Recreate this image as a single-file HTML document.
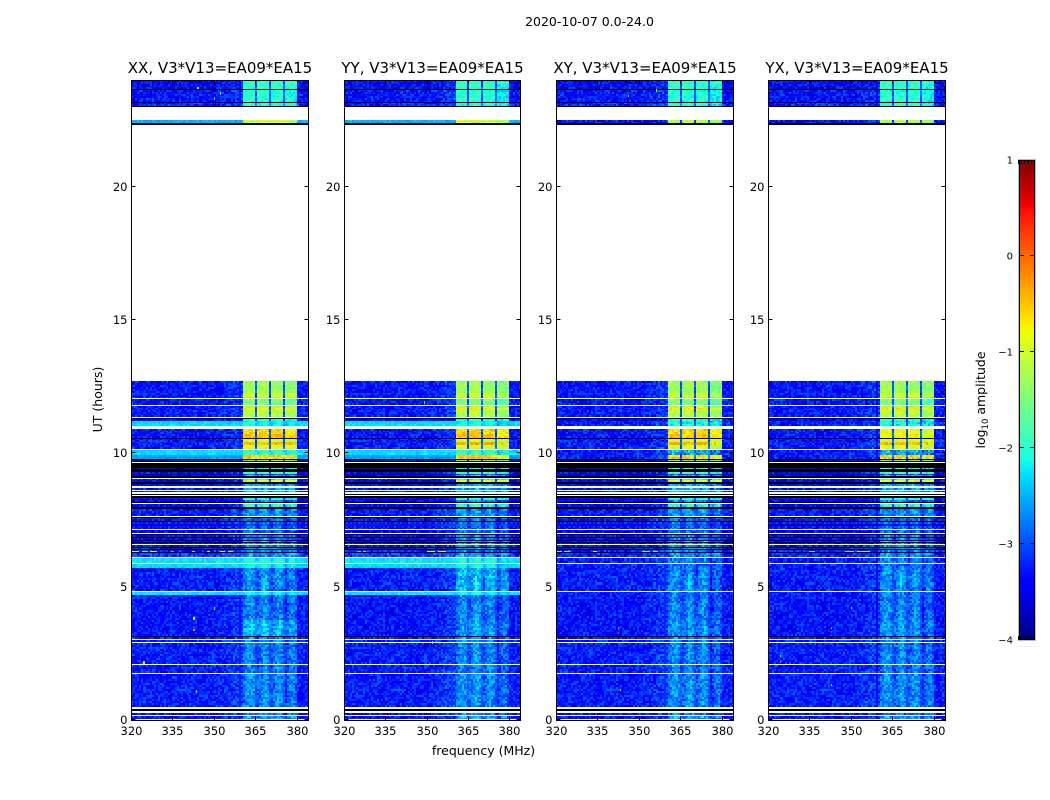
<!DOCTYPE html>
<html lang="en">
<head>
<meta charset="utf-8">
<title>2020-10-07 0.0-24.0</title>
<style>
html,body{margin:0;padding:0;background:#fff;}
svg{display:block;}
text{font-family:"DejaVu Sans","Liberation Sans",sans-serif;fill:#000;}
</style>
</head>
<body>
<svg id="fig" xmlns="http://www.w3.org/2000/svg" width="1050" height="800" viewBox="0 0 1050 800">
<text x="589.5" y="26" text-anchor="middle" font-size="12.5">2020-10-07 0.0-24.0</text>
<text x="483.5" y="755" text-anchor="middle" font-size="12.5">frequency (MHz)</text>
<text transform="translate(102,399.5) rotate(-90)" text-anchor="middle" font-size="12.5">UT (hours)</text>
<text transform="translate(985,400) rotate(-90)" text-anchor="middle" font-size="12.5">log<tspan font-size="8.5" dy="3">10</tspan><tspan dy="-3"> amplitude</tspan></text>
</svg>
<script>
const W = null;
const K = -99;

const panelTitles = ["XX, V3*V13=EA09*EA15", "YY, V3*V13=EA09*EA15", "XY, V3*V13=EA09*EA15", "YX, V3*V13=EA09*EA15"];
const xTickValues = [320, 335, 350, 365, 380];
const yTickValues = [0, 5, 10, 15, 20];
const colorbarTickValues = [1, 0, -1, -2, -3, -4];
const colorbarTickLabels = ["1", "0", "\u22121", "\u22122", "\u22123", "\u22124"];

const subbandEdges = [[360.6, 364.9], [365.6, 369.9], [370.6, 374.9], [375.6, 379.9]];

/* [start hour, end hour, background log10 amp, sub-band log10 amp]; W = no data, K = black */
const timeRows = [
[24.00,23.65,-3.15,-1.95],[23.65,23.61,K,K],[23.61,23.18,-3.1,-2.0],[23.18,23.15,K,K],[23.15,23.02,-3.0,-2.0],[23.02,22.98,K,K],
[22.98,22.50,W,W],[22.50,22.37,-3.1,-1.2],[22.37,22.33,K,K],[22.33,12.71,W,W],
[12.71,12.26,-3.1,-1.3],[12.26,12.11,-3.1,-0.95],[12.11,12.06,-3.1,-1.3],[12.06,12.02,W,W],[12.02,11.81,-3.1,-1.5],[11.81,11.78,W,W],
[11.78,11.70,-3.1,-1.15],[11.70,11.61,-3.05,-0.75],[11.61,11.36,-3.05,-1.15],[11.36,11.33,W,W],[11.33,11.30,K,K],[11.30,11.23,-3.25,-2.0],
[11.23,11.04,-3.05,-2.2],[11.04,10.91,W,W],[10.91,10.73,-3.1,-0.6],[10.73,10.58,-3.1,-0.5],[10.58,10.55,K,K],[10.55,10.43,-3.05,-0.95],
[10.43,10.31,-3.05,-0.4],[10.31,10.16,-3.05,-1.0],[10.16,10.13,W,W],[10.13,9.94,-3.05,-2.4],[9.94,9.79,-3.05,-0.55],[9.79,9.76,K,K],
[9.76,9.71,-3.3,-1.9],[9.71,9.68,K,K],[9.68,9.65,W,W],[9.65,9.46,K,K],[9.46,9.41,-3.4,-2.1],[9.41,9.31,K,K],[9.31,9.24,-3.2,-1.9],
[9.24,9.19,-3.5,-3.0],[9.19,9.14,-3.2,-2.3],[9.14,9.09,K,K],[9.09,9.04,W,W],[9.04,8.99,-3.1,-2.1],[8.99,8.91,-3.2,-0.8],[8.91,8.85,K,K],
[8.85,8.76,-3.2,-2.4],[8.76,8.69,W,W],[8.69,8.64,-3.1,-2.4],[8.64,8.59,W,W],[8.59,8.54,-3.1,-2.3],[8.54,8.49,W,W],[8.49,8.44,K,K],
[8.44,8.41,W,W],[8.41,8.34,K,K],[8.34,8.25,-3.2,-2.0],[8.25,8.19,-3.3,-2.6],[8.19,8.14,K,K],[8.14,8.10,W,W],[8.10,8.00,-3.2,-2.1],
[8.00,7.91,K,K],[7.91,7.65,-3.05,-2.5],[7.65,7.61,W,W],[7.61,7.58,K,K],[7.58,7.46,-3.1,-2.7],[7.46,7.43,K,K],[7.43,7.29,-3.05,-2.7],
[7.29,7.26,K,K],[7.26,7.16,-3.1,-2.7],[7.16,7.13,W,W],[7.13,7.02,-3.2,-2.7],[7.02,6.98,W,W],[6.98,6.92,K,K],[6.92,6.85,-3.15,-2.6],
[6.85,6.82,K,K],[6.82,6.75,-3.2,-2.6],[6.75,6.71,K,K],[6.71,6.66,-3.15,-2.4],[6.66,6.63,K,K],[6.63,6.60,-3.2,-2.5],[6.60,6.56,W,W],
[6.56,6.49,-3.1,-2.6],[6.49,6.45,K,K],[6.45,6.41,-3.1,-2.5],[6.41,6.39,K,K],[6.39,6.36,-3.1,-2.5],[6.36,6.30,-3.0,-2.6],
[6.30,6.26,K,K],[6.26,6.11,-3.0,-2.5],[6.11,6.06,W,W],[6.06,5.90,-3.05,-2.6],[5.90,5.84,W,W],[5.84,5.71,-3.05,-2.6],[5.71,4.84,-3.05,-2.55],
[4.84,4.80,W,W],[4.80,4.69,-3.05,-2.6],[4.69,3.75,-3.1,-2.6],[3.75,3.16,-3.1,-2.5],[3.16,3.13,K,K],[3.13,3.05,-3.05,-2.6],[3.05,3.00,W,W],
[3.00,2.94,-3.05,-2.6],[2.94,2.90,W,W],[2.90,2.09,-3.05,-2.6],[2.09,2.05,W,W],[2.05,1.75,-3.05,-2.6],[1.75,1.71,W,W],[1.71,0.48,-3.05,-2.55],
[0.48,0.42,W,W],[0.42,0.33,K,K],[0.33,0.26,W,W],[0.26,0.19,-3.1,-2.6],[0.19,0.15,W,W],[0.15,0.03,-3.1,-2.4],[0.03,0,W,W]
];

/* [row start hour, background, sub-band] replacing the shared row levels */
const overridesXX = [[22.50,-2.5,-0.95],[11.23,-2.3,-2.25],[10.13,-2.3,-2.1],[9.94,-2.6,-0.55],[6.26,-2.85,-2.45],[6.06,-2.25,-2.2],[5.84,-2.3,-2.25],[4.80,-2.25,-2.25],[3.75,-3.1,-2.3]];
const overridesYY = [[22.50,-2.5,-0.95],[11.23,-2.3,-2.25],[10.13,-2.3,-2.1],[9.94,-2.6,-0.55],[6.26,-2.85,-2.45],[6.06,-2.25,-2.2],[5.84,-2.3,-2.25],[4.80,-2.25,-2.25],[5.71,-3.05,-2.35]];
const overridesXY = [];
const overridesYX = [[10.91,-3.1,-0.85],[10.73,-3.1,-0.75]];

const subbandOffsetXX = [0, 0, 0, -0.1];
const subbandOffsetYY = [0, 0.05, 0, -0.2];
const subbandOffsetXY = [0, 0, 0, -0.2];
const subbandOffsetYX = [0, 0, 0, -0.15];

/* log10 amp added to weak sub-band rows per MHz from 360 MHz */
const streakProfile = [0,0.1,0.2,0.2,0.1,-0.1,0,0.1,0.25,0.1,-0.15,0,0.1,0.2,0.1,-0.2,0,0.15,0.2,0.05,0,0,0,0,0];
/* log10 amp added to the background per MHz from 350 MHz */
const backgroundRamp = [0,0.02,0.04,0.06,0.08,0.1,0.14,0.18,0.2,0.2,0.2];
/* fine amplitude scatter in tenths of a decade */
const speckle = [2,-3,1,-1,4,-2,0,3,-4,1,-2,2,-1,3,-3,0,1,-4,2,-1,3,0,-2,4,-3,1,-1,2,-2,0,3,-3,1,4,-1,-4,2,0,-2,1,3,-1,-3,2,0,-2,4,1,-4,-1,3,0,2,-3,1,-2,3,-1,0,4,-2,-3,2,1,-1,-4,3,0,-2,2,-3,1,4,-1,0,-2,3,-4,1,2,-1,0,-3,3,-2,1,-1,2,0];

/* [hour, first MHz, last MHz, log10 amp] */
const hotRowsXX = [[6.33,320.4,323,-1.3],[6.33,324,326,-1.9],[6.33,327,329.5,-1.2],[6.33,334.5,335.5,-0.1],[6.33,342,343,-1.8],[6.33,347.5,348.5,-0.6],[6.33,352,354,-1.3],[6.33,355,357,-1.2]];
const hotRowsYY = [[6.33,325,326,-1.7],[6.33,327,328,-1.8],[6.33,350,353,-1.2],[6.33,354,357,-1.1]];
const hotRowsXY = [[6.33,320,322,-1.6],[6.33,323,325,-1.8],[6.33,333.5,335,-0.7],[6.33,351,354,-1.8],[6.33,355,357,-1.7]];
const hotRowsYX = [[6.33,335,337,-1.9],[6.33,348,351,-1.7],[6.33,352,357,-1.5]];

/* [MHz, hour, log10 amp] */
const hotPixelsXX = [[342.5,3.37,-0.2],[342.5,3.8,-1.4],[350,4.19,-1.6],[324.4,2.15,-0.6],[343.5,1.06,-2],[344,23.7,-1.5],[352,23.5,-1.2],[350,23.3,-1.6]];
const hotPixelsYY = [[341,23.55,0.2],[349,11.9,-1.6],[352,2.9,-1.6]];
const hotPixelsXY = [[342.4,3.26,0.3],[342.4,3.45,-0.1],[343,1.12,-1.8],[346,23.4,-1.6],[356,23.6,-1.5]];
const hotPixelsYX = [[342.6,3.3,0.3],[342.6,3.45,-0.1],[342.7,1.31,-1.8],[324.3,2.17,-0.3],[324.3,2.4,-1.9],[350,4.2,-1.8]];

const jetStopsT = [0, 0.11, 0.125, 0.34, 0.35, 0.375, 0.64, 0.65, 0.66, 0.89, 0.91, 1];
const jetR = [0, 0, 0, 0, 0, 0.08, 0.94, 0.97, 1, 1, 0.91, 0.5];
const jetG = [0, 0, 0, 0.86, 0.9, 1, 1, 0.96, 0.92, 0.07, 0, 0];
const jetB = [0.5, 1, 1, 1, 0.97, 0.9, 0.03, 0, 0, 0, 0, 0];

const backgroundBias = -0.22;
const weakSubbandBias = -0.28;

const SVGNS = "http://www.w3.org/2000/svg";
const fig = document.getElementById("fig");
const panelLefts = [131, 344, 556, 768];
const panelRights = [308, 520, 733, 945];
const plotTop = 80;
const plotBottom = 720;
const levelMin = -4;
const levelMax = 1;
const cbLeft = 1019, cbRight = 1035, cbTop = 160, cbBottom = 640;

function xOf(panel, mhz) { return panelLefts[panel] + (mhz - 320) * (panelRights[panel] - panelLefts[panel]) / 64; }
function yOf(hour) { return plotBottom - hour * (plotBottom - plotTop) / 24; }
function cbY(level) { return cbTop + (levelMax - level) * (cbBottom - cbTop) / (levelMax - levelMin); }
function lerpStops(vals, t) {
  for (let i = 1; i < jetStopsT.length; i++) {
    if (t <= jetStopsT[i]) {
      const f = (t - jetStopsT[i - 1]) / (jetStopsT[i] - jetStopsT[i - 1]);
      return vals[i - 1] + f * (vals[i] - vals[i - 1]);
    }
  }
  return vals[vals.length - 1];
}
function levelColor(level) {
  const t = Math.max(0, Math.min(1, (level - levelMin) / (levelMax - levelMin)));
  const r = Math.round(255 * lerpStops(jetR, t));
  const g = Math.round(255 * lerpStops(jetG, t));
  const b = Math.round(255 * lerpStops(jetB, t));
  return "rgb(" + r + "," + g + "," + b + ")";
}
function node(tag, parent) {
  const el = document.createElementNS(SVGNS, tag);
  parent.appendChild(el);
  return el;
}
function cellRect(parent, x0, x1, y0, y1, fill) {
  const r = node("rect", parent);
  const xa = Math.round(x0), ya = Math.round(y0);
  r.setAttribute("x", xa);
  r.setAttribute("y", ya);
  r.setAttribute("width", Math.max(1, Math.round(x1) - xa));
  r.setAttribute("height", Math.max(1, Math.round(y1) - ya));
  r.setAttribute("fill", fill);
  r.setAttribute("shape-rendering", "crispEdges");
  return r;
}

const channelStep = 0.75;
const columns = [];
for (let f = 320; f < 360.6; f += channelStep) { columns.push({ f0: f, f1: Math.min(f + channelStep, 360.6), kind: "bg", sb: -1 }); }
subbandEdges.forEach(function (edge, i) {
  const n = 6;
  const w = (edge[1] - edge[0]) / n;
  for (let k = 0; k < n; k++) { columns.push({ f0: edge[0] + k * w, f1: edge[0] + (k + 1) * w, kind: "sb", sb: i }); }
  if (i < subbandEdges.length - 1) { columns.push({ f0: edge[1], f1: subbandEdges[i + 1][0], kind: "gap", sb: i }); }
});
for (let f = 379.9; f < 384; f += channelStep) { columns.push({ f0: f, f1: Math.min(f + channelStep, 384), kind: "bg", sb: -1 }); }

const polOverrides = [overridesXX, overridesYY, overridesXY, overridesYX];
const polOffsets = [subbandOffsetXX, subbandOffsetYY, subbandOffsetXY, subbandOffsetYX];
const polHotRows = [hotRowsXX, hotRowsYY, hotRowsXY, hotRowsYX];
const polHotPixels = [hotPixelsXX, hotPixelsYY, hotPixelsXY, hotPixelsYX];
const polNames = ["xx", "yy", "xy", "yx"];

function drawPanel(p) {
  const pol = polNames[p];
  const g = node("g", fig);
  
  
  const cells = node("g", g);
  
  
  let serial = 0;
  timeRows.forEach(function (row) {
    let bg = row[2], sb = row[3];
    polOverrides[p].forEach(function (o) { if (o[0] === row[0]) { bg = o[1]; sb = o[2]; } });
    if (bg === W) { return; }
    const left = xOf(p, 320), right = xOf(p, 384);
    if (bg === K) {
      const band = cellRect(cells, left, right, yOf(row[0]), yOf(row[1]), "#000");
      
      
      return;
    }
    const quiet = bg < -2.8;
    const bgBase = quiet ? bg + backgroundBias : bg;
    const sbBase = quiet && sb < -2.25 ? sb + weakSubbandBias : sb;
    const noiseScale = quiet ? 0.9 : 0.35;
    const n = Math.max(1, Math.ceil((row[0] - row[1]) / 0.08 - 0.001));
    const dh = (row[0] - row[1]) / n;
    for (let k = 0; k < n; k++) {
      serial++;
      const y0 = yOf(row[0] - k * dh), y1 = yOf(row[0] - (k + 1) * dh);
      columns.forEach(function (col, ci) {
        const noise = speckle[(serial * 37 + ci * 11 + serial * ci + p * 13) % speckle.length] / 10;
        const mid = (col.f0 + col.f1) / 2;
        let level;
        if (col.kind === "bg") {
          const rampIndex = Math.floor(mid) - 350;
          const ramp = rampIndex >= 0 && rampIndex < backgroundRamp.length && quiet ? backgroundRamp[rampIndex] : 0;
          level = bgBase + ramp + noise * noiseScale;
        } else if (col.kind === "sb") {
          const streak = sb < -2 ? streakProfile[Math.floor(mid) - 360] : 0;
          level = sbBase + polOffsets[p][col.sb] + streak + noise * (sb > -2.1 ? 0.6 : noiseScale);
        } else {
          level = (sb >= -2.25 && quiet ? bgBase + 0.35 : sbBase - 0.1) + noise * 0.6;
        }
        const c = cellRect(cells, xOf(p, col.f0), xOf(p, col.f1), y0, y1, levelColor(level));
        
        
      });
    }
  });
  polHotRows[p].forEach(function (h) {
    const r = cellRect(cells, xOf(p, h[1]), xOf(p, h[2]), yOf(h[0] + 0.02), yOf(h[0] - 0.02), levelColor(h[3]));
    
    
  });
  polHotPixels[p].forEach(function (h) {
    const r = cellRect(cells, xOf(p, h[0]), xOf(p, h[0] + 0.5), yOf(h[1] + 0.05), yOf(h[1] - 0.05), levelColor(h[2]));
    
    
  });

  const L = panelLefts[p] + 0.5, R = panelRights[p] + 0.5;
  const frame = node("rect", g);
  
  
  frame.setAttribute("x", L);
  frame.setAttribute("y", plotTop + 0.5);
  frame.setAttribute("width", R - L);
  frame.setAttribute("height", plotBottom - plotTop);
  frame.setAttribute("fill", "none");
  frame.setAttribute("stroke", "#000");
  frame.setAttribute("stroke-width", "1");

  xTickValues.forEach(function (v) {
    const x = Math.round(xOf(p, v)) + 0.5;
    [[plotBottom, plotBottom - 4], [plotTop, plotTop + 4]].forEach(function (s) {
      const t = node("line", g);
      
      
      t.setAttribute("x1", x); t.setAttribute("x2", x);
      t.setAttribute("y1", s[0]); t.setAttribute("y2", s[1]);
      t.setAttribute("stroke", "#000");
    });
    const lab = node("text", g);
    
    
    lab.setAttribute("x", x);
    lab.setAttribute("y", 735);
    lab.setAttribute("text-anchor", "middle");
    lab.setAttribute("font-size", "11.5");
    lab.textContent = String(v);
  });
  yTickValues.forEach(function (v) {
    const y = Math.round(yOf(v)) - 0.5;
    [[L, L + 4], [R, R - 4]].forEach(function (s) {
      const t = node("line", g);
      
      
      t.setAttribute("x1", s[0]); t.setAttribute("x2", s[1]);
      t.setAttribute("y1", y); t.setAttribute("y2", y);
      t.setAttribute("stroke", "#000");
    });
    const lab = node("text", g);
    
    
    lab.setAttribute("x", L - 4);
    lab.setAttribute("y", y + 4.5);
    lab.setAttribute("text-anchor", "end");
    lab.setAttribute("font-size", "11.5");
    lab.textContent = String(v);
  });
  const title = node("text", g);
  
  
  title.setAttribute("x", (panelLefts[p] + panelRights[p]) / 2 + 0.5);
  title.setAttribute("y", 73);
  title.setAttribute("text-anchor", "middle");
  title.setAttribute("font-size", "15");
  title.textContent = panelTitles[p];
}
panelTitles.forEach(function (_, p) { drawPanel(p); });

function drawColorbar() {
  const g = node("g", fig);
  
  
  const halo = node("rect", g);
  
  
  halo.setAttribute("x", cbLeft - 1);
  halo.setAttribute("y", cbTop - 1);
  halo.setAttribute("width", cbRight - cbLeft + 2);
  halo.setAttribute("height", cbBottom - cbTop + 2);
  halo.setAttribute("fill", "#bbb");
  for (let y = cbTop; y < cbBottom; y += 2) {
    const level = levelMax - (y + 1 - cbTop) * (levelMax - levelMin) / (cbBottom - cbTop);
    const s = cellRect(g, cbLeft, cbRight, y, y + 2, levelColor(level));
    
    
  }
  const frame = node("rect", g);
  
  
  frame.setAttribute("x", cbLeft + 0.5);
  frame.setAttribute("y", cbTop + 0.5);
  frame.setAttribute("width", cbRight - cbLeft - 1);
  frame.setAttribute("height", cbBottom - cbTop - 1);
  frame.setAttribute("fill", "none");
  frame.setAttribute("stroke", "#000");
  colorbarTickValues.forEach(function (v, i) {
    const y = Math.round(cbY(v)) - 0.5;
    if (v !== levelMax && v !== levelMin) {
      [[cbLeft, cbLeft + 5], [cbRight, cbRight - 5]].forEach(function (s) {
        const t = node("line", g);
        
        
        t.setAttribute("x1", s[0]); t.setAttribute("x2", s[1]);
        t.setAttribute("y1", y); t.setAttribute("y2", y);
        t.setAttribute("stroke", "#000");
      });
    }
    const lab = node("text", g);
    
    
    lab.setAttribute("x", 1013);
    lab.setAttribute("y", y + 4);
    lab.setAttribute("text-anchor", "end");
    lab.setAttribute("font-size", "10");
    lab.textContent = colorbarTickLabels[i];
  });
  for (let i = 0; i <= 5; i++) {
    const x = Math.round(cbLeft + i * (cbRight - cbLeft) / 5) - 0.5;
    [[cbTop, cbTop + 4], [cbBottom, cbBottom - 4]].forEach(function (s) {
      const t = node("line", g);
      
      
      t.setAttribute("x1", x); t.setAttribute("x2", x);
      t.setAttribute("y1", s[0]); t.setAttribute("y2", s[1]);
      t.setAttribute("stroke", "#000");
    });
  }
  const dots = node("text", g);
  
  
  dots.setAttribute("x", 1017);
  dots.setAttribute("y", 647);
  dots.setAttribute("font-size", "5");
  dots.setAttribute("letter-spacing", "1.7");
  dots.setAttribute("style", "fill:#888");
  dots.textContent = "......";
}
drawColorbar();
</script>
</body>
</html>
